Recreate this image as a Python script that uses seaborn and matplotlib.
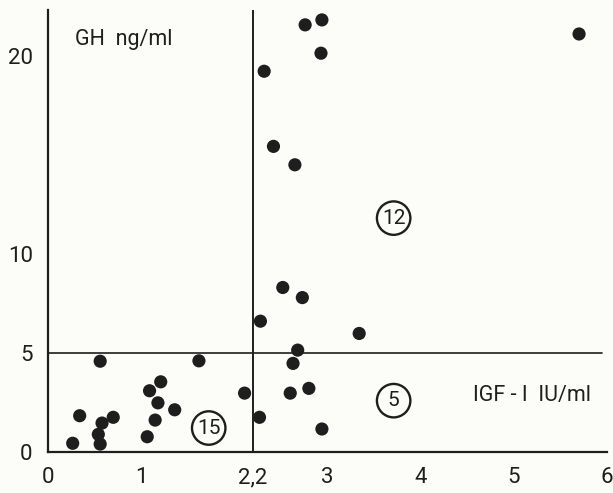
import matplotlib
matplotlib.use("Agg")
import matplotlib.pyplot as plt
import seaborn as sns
import pandas as pd

# IGF-I (IU/ml) and GH (ng/ml) values
igf1 = [0.265, 0.34, 0.56, 0.56, 0.54, 0.58, 0.70, 1.065, 1.09, 1.15, 1.18, 1.21,
        1.36, 1.62, 2.11,
        2.27, 2.63, 2.60, 2.80, 2.94,
        2.28, 2.52, 2.73, 2.68, 3.34, 2.32, 2.42, 2.65, 2.76, 2.94, 2.93, 5.70]
gh = [0.44, 1.83, 4.58, 0.40, 0.89, 1.46, 1.75, 0.77, 3.09, 1.61, 2.48, 3.54,
      2.13, 4.60, 2.97,
      1.75, 4.47, 2.97, 3.21, 1.16,
      6.60, 8.30, 7.79, 5.14, 5.98, 19.21, 15.42, 14.49, 21.55, 21.80, 20.12, 21.09]

x_ticks = [0, 1, 2.2, 3, 4, 5, 6]
x_tick_labels = ["0", "1", "2,2", "3", "4", "5", "6"]
y_ticks = [0, 5, 10, 20]
y_tick_labels = ["0", "5", "10", "20"]
igf_cutoff = 2.2
gh_cutoff = 5
group_counts = ["15", "5", "12"]

df = pd.DataFrame({"IGF-I": igf1, "GH": gh})

sns.set_style("white")
plt.rcParams["font.family"] = ["Roboto", "DejaVu Sans"]

bg = "#fcfcf8"
ink = "#1e1e1e"
fig = plt.figure(figsize=(6.13, 4.93), dpi=100, facecolor=bg)
ax = fig.add_axes([48/613, 41/493, 559/613, 442/493])
ax.set_facecolor(bg)

sns.scatterplot(data=df, x="IGF-I", y="GH", ax=ax, s=90, color=ink,
                edgecolor="none", zorder=3)

ax.axvline(igf_cutoff, color=ink, lw=1.4, zorder=2)
ax.plot([0, 5.95], [gh_cutoff, gh_cutoff], color=ink, lw=1.2, zorder=2,
        clip_on=False)

ax.set_xlim(0, 6)
ax.set_ylim(0, 22.3)
ax.set_xticks(x_ticks)
ax.set_xticklabels(x_tick_labels)
ax.set_yticks(y_ticks)
ax.set_yticklabels(y_tick_labels)
ax.set_xlabel("")
ax.set_ylabel("")

for side in ["top", "right"]:
    ax.spines[side].set_visible(False)
for side in ["left", "bottom"]:
    ax.spines[side].set_color(ink)
    ax.spines[side].set_linewidth(1.6)
ax.tick_params(axis="both", direction="out", length=8, width=1.4, colors=ink,
               labelsize=16, pad=3)

ax.text(0.29, 20.8, "GH  ng/ml", fontsize=15.5, color=ink, va="center", ha="left")
ax.text(4.56, 2.85, "IGF - I  IU/ml", fontsize=15.5, color=ink, va="center",
        ha="left")

circ_pos = [(1.725, 1.21), (3.71, 2.59), (3.71, 11.8)]
for (cx, cy), lab in zip(circ_pos, group_counts):
    ax.scatter([cx], [cy], s=580, facecolors="none", edgecolors=ink,
               linewidths=1.7, zorder=3, clip_on=False)
    ax.text(cx, cy, lab, fontsize=15, color=ink, ha="center", va="center",
            zorder=4)

fig.savefig("out.png", dpi=100, facecolor=bg)
